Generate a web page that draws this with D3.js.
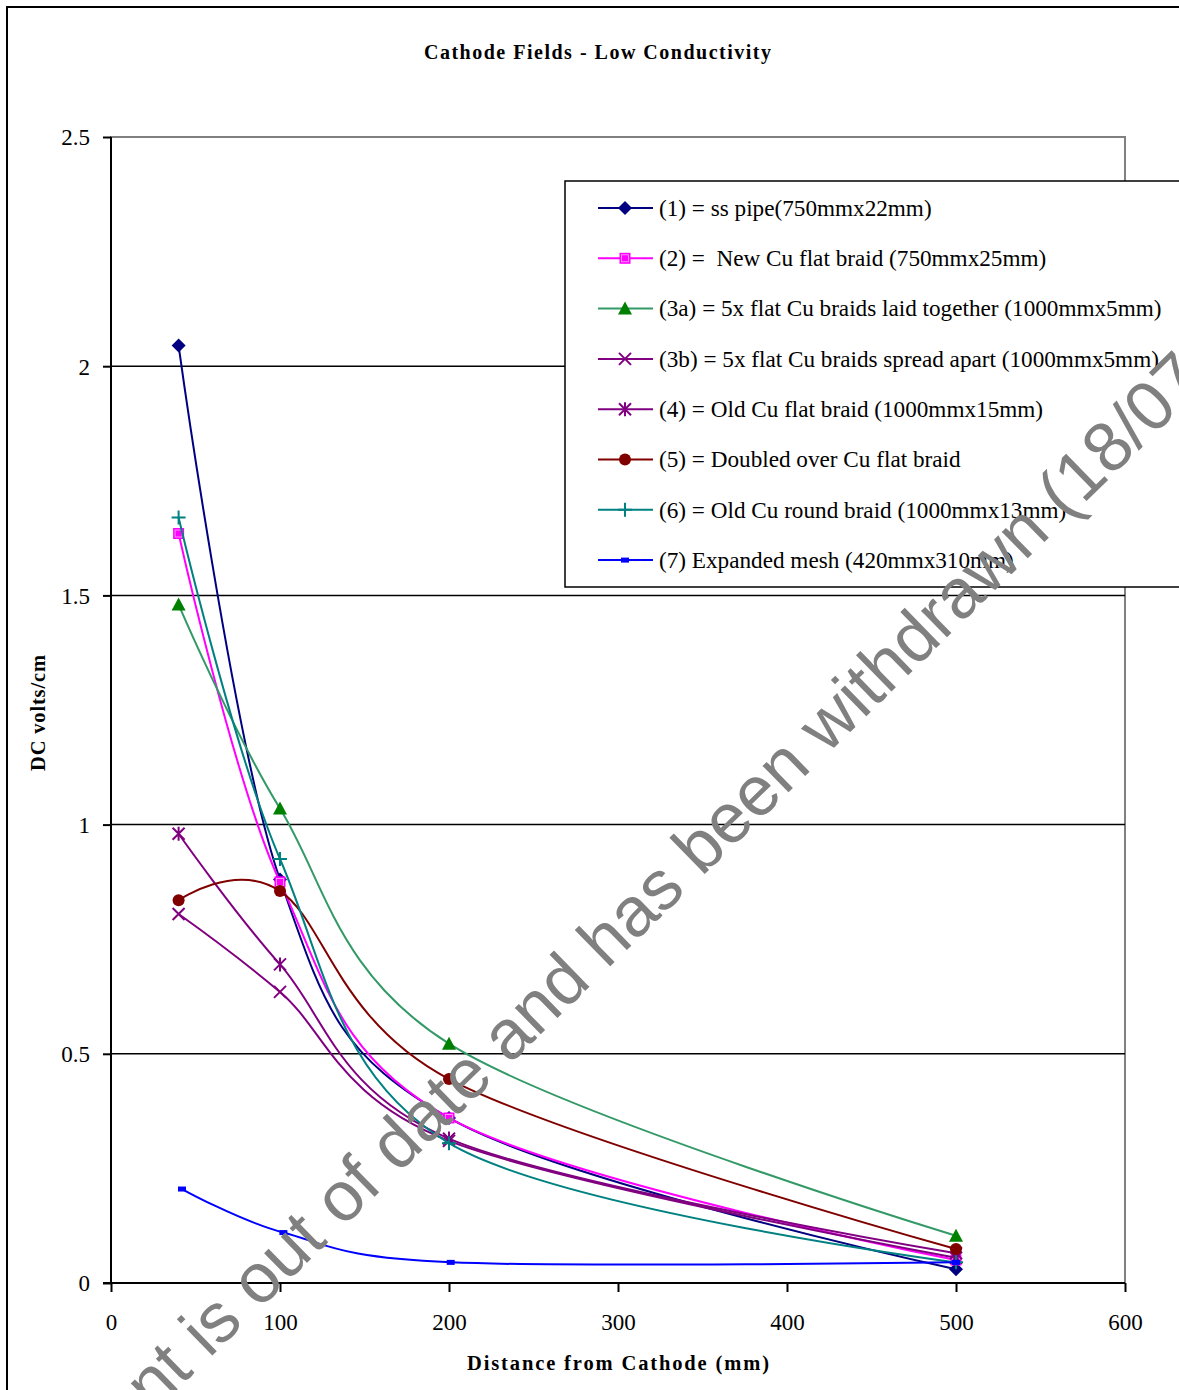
<!DOCTYPE html>
<html><head><meta charset="utf-8">
<script src="https://cdn.jsdelivr.net/npm/d3@7"></script>
<style>body{margin:0;background:#fff}svg{display:block}</style>
</head><body>
<svg id="c" width="1179" height="1390"></svg>
<script>
// ---------- data ----------
const chartTitle = "Cathode Fields - Low Conductivity";
const xTitle = "Distance from Cathode (mm)";
const yTitle = "DC volts/cm";
const xTicks = [0, 100, 200, 300, 400, 500, 600];
const yTicks = [0, 0.5, 1, 1.5, 2, 2.5];
const seriesNames = [
  "(1) = ss pipe(750mmx22mm)",
  "(2) =  New Cu flat braid (750mmx25mm)",
  "(3a) = 5x flat Cu braids laid together (1000mmx5mm)",
  "(3b) = 5x flat Cu braids spread apart (1000mmx5mm)",
  "(4) = Old Cu flat braid (1000mmx15mm)",
  "(5) = Doubled over Cu flat braid",
  "(6) = Old Cu round braid (1000mmx13mm)",
  "(7) Expanded mesh (420mmx310mm)"
];
const distances = [40, 100, 200, 500];
const distances7 = [42, 102, 201, 500];
const s1 = [2.045, 0.88, 0.36, 0.03];
const s2 = [1.635, 0.875, 0.36, 0.05];
const s3a = [1.48, 1.035, 0.522, 0.103];
const s3b = [0.805, 0.635, 0.31, 0.055];
const s4 = [0.98, 0.695, 0.315, 0.065];
const s5 = [0.835, 0.855, 0.445, 0.074];
const s6 = [1.67, 0.925, 0.305, 0.045];
const s7 = [0.205, 0.11, 0.045, 0.045];
const watermark = "This document is out of date and has been withdrawn (18/07/2013)";

// ---------- styles ----------
const lineColors = ["#000080","#FF00FF","#339966","#800080","#800080","#800000","#008080","#0000FF"];
const markerColors = ["#000080","#FF00FF","#008000","#800080","#800080","#800000","#008080","#0000FF"];
const markerTypes = ["diamond","square","triangle","x","asterisk","circle","plus","dash"];

const series = [
  {x: distances, y: s1}, {x: distances, y: s2}, {x: distances, y: s3a}, {x: distances, y: s3b},
  {x: distances, y: s4}, {x: distances, y: s5}, {x: distances, y: s6}, {x: distances7, y: s7}
].map((s, i) => ({name: seriesNames[i], pts: s.x.map((v, j) => [v, s.y[j]]),
  line: lineColors[i], mark: markerColors[i], type: markerTypes[i]}));

const svg = d3.select("#c");
const L = 111, R = 1125, T = 137, B = 1283;
const x = d3.scaleLinear().domain([0, 600]).range([L, R]);
const y = d3.scaleLinear().domain([0, 2.5]).range([B, T]);
const serif = "'Liberation Serif','Times New Roman',serif";

// outer frame
svg.append("rect").attr("x", 7).attr("y", 7).attr("width", 1200).attr("height", 1400)
  .attr("fill", "#fff").attr("stroke", "#000").attr("stroke-width", 2);

// plot area
svg.append("rect").attr("x", L).attr("y", T).attr("width", R - L).attr("height", B - T)
  .attr("fill", "#fff").attr("stroke", "#808080").attr("stroke-width", 2);

// gridlines
svg.append("g").selectAll("line").data(yTicks.filter(d => d > 0 && d < 2.5)).join("line")
  .attr("x1", L).attr("x2", R).attr("y1", d => y(d)).attr("y2", d => y(d))
  .attr("stroke", "#000").attr("stroke-width", 1.5);

// axes
const yAxis = svg.append("g").attr("transform", `translate(${L},0)`)
  .call(d3.axisLeft(y).tickValues(yTicks).tickSize(8).tickPadding(13).tickFormat(d3.format("")));
const xAxis = svg.append("g").attr("transform", `translate(0,${B})`)
  .call(d3.axisBottom(x).tickValues(xTicks).tickSize(9).tickPadding(21).tickFormat(d3.format("")));
[yAxis, xAxis].forEach(a => {
  a.attr("font-family", serif).attr("font-size", 23);
  a.select(".domain").attr("stroke", "#000").attr("stroke-width", 2);
  a.selectAll(".tick line").attr("stroke", "#000").attr("stroke-width", 2);
  a.selectAll(".tick text").attr("font-family", serif).attr("font-size", 23).attr("fill", "#000");
});
yAxis.select(".domain").attr("d", `M0,${T}V${B + 1}`);
xAxis.select(".domain").attr("d", `M${L - 8},0H${R}`);
yAxis.selectAll(".tick text").attr("dy", "0.34em");
xAxis.selectAll(".tick text").attr("dy", "0.72em");

// series lines & markers
const lineGen = d3.line().x(d => x(d[0])).y(d => y(d[1])).curve(d3.curveCardinal.tension(0));

function drawMarker(g, type, color, cx, cy) {
  const m = g.append("g").attr("transform", `translate(${cx},${cy})`);
  switch (type) {
    case "diamond":
      m.append("path").attr("d", "M0,-7L7,0L0,7L-7,0Z").attr("fill", color); break;
    case "square":
      m.append("rect").attr("x", -5.5).attr("y", -5.5).attr("width", 11).attr("height", 11)
        .attr("fill", color);
      m.append("rect").attr("x", -3.5).attr("y", -3.5).attr("width", 7).attr("height", 7)
        .attr("fill", "none").attr("stroke", "#fff").attr("stroke-width", 0.8).attr("opacity", 0.7);
      break;
    case "triangle":
      m.append("path").attr("d", "M0,-7L7,6L-7,6Z").attr("fill", color); break;
    case "x":
      m.append("path").attr("d", "M-6,-6L6,6M-6,6L6,-6").attr("stroke", color).attr("stroke-width", 2); break;
    case "asterisk":
      m.append("path").attr("d", "M-6,-6L6,6M-6,6L6,-6M0,-7V7").attr("stroke", color).attr("stroke-width", 2); break;
    case "circle":
      m.append("circle").attr("r", 6).attr("fill", color); break;
    case "plus":
      m.append("path").attr("d", "M-7,0H7M0,-7V7").attr("stroke", color).attr("stroke-width", 2); break;
    case "dash":
      m.append("rect").attr("x", -4).attr("y", -2.5).attr("width", 8).attr("height", 5).attr("fill", color); break;
  }
}

const gs = svg.append("g");
series.forEach(s => {
  const g = gs.append("g");
  g.append("path").attr("d", lineGen(s.pts)).attr("fill", "none")
    .attr("stroke", s.line).attr("stroke-width", 2);
  s.pts.forEach(p => drawMarker(g, s.type, s.mark, x(p[0]), y(p[1])));
});

// legend
const lg = svg.append("g");
lg.append("rect").attr("x", 565).attr("y", 181).attr("width", 700).attr("height", 406)
  .attr("fill", "#fff").attr("stroke", "#000").attr("stroke-width", 1.5);
series.forEach((s, i) => {
  const yy = 208 + i * 50.3;
  lg.append("line").attr("x1", 598).attr("x2", 653).attr("y1", yy).attr("y2", yy)
    .attr("stroke", s.line).attr("stroke-width", 2);
  drawMarker(lg, s.type, s.mark, 625, yy);
  lg.append("text").attr("x", 659).attr("y", yy).attr("dy", "0.34em")
    .attr("font-family", serif).attr("font-size", 23.2).attr("xml:space", "preserve")
    .style("white-space", "pre").text(s.name);
});

// titles
svg.append("text").attr("x", 597.5).attr("y", 59).attr("text-anchor", "middle")
  .attr("font-family", serif).attr("font-weight", "bold").attr("font-size", 20)
  .attr("textLength", 347).attr("lengthAdjust", "spacing").text(chartTitle);
svg.append("text").attr("x", 618).attr("y", 1370).attr("text-anchor", "middle")
  .attr("font-family", serif).attr("font-weight", "bold").attr("font-size", 20.5)
  .attr("textLength", 302).attr("lengthAdjust", "spacing").text(xTitle);
svg.append("text").attr("transform", "translate(45,713) rotate(-90)").attr("text-anchor", "middle")
  .attr("font-family", serif).attr("font-weight", "bold").attr("font-size", 20.5)
  .attr("textLength", 116).attr("lengthAdjust", "spacing").text(yTitle);

// watermark
const wmFont = "'Liberation Sans',Arial,sans-serif", wmSize = 70, wmAngle = -44.35;
const probe = svg.append("text").attr("font-family", wmFont).attr("font-size", wmSize)
  .style("white-space", "pre").text(watermark.slice(0, watermark.indexOf("(")));
const pre = probe.node().getComputedTextLength();
probe.remove();
const ang = wmAngle * Math.PI / 180;
const P = [1066, 521];
const sx = P[0] - pre * Math.cos(ang), sy = P[1] - pre * Math.sin(ang);
svg.append("text").attr("transform", `translate(${sx},${sy}) rotate(${wmAngle})`)
  .attr("font-family", wmFont).attr("font-size", wmSize).attr("fill", "#808080")
  .text(watermark);
</script>
</body></html>
